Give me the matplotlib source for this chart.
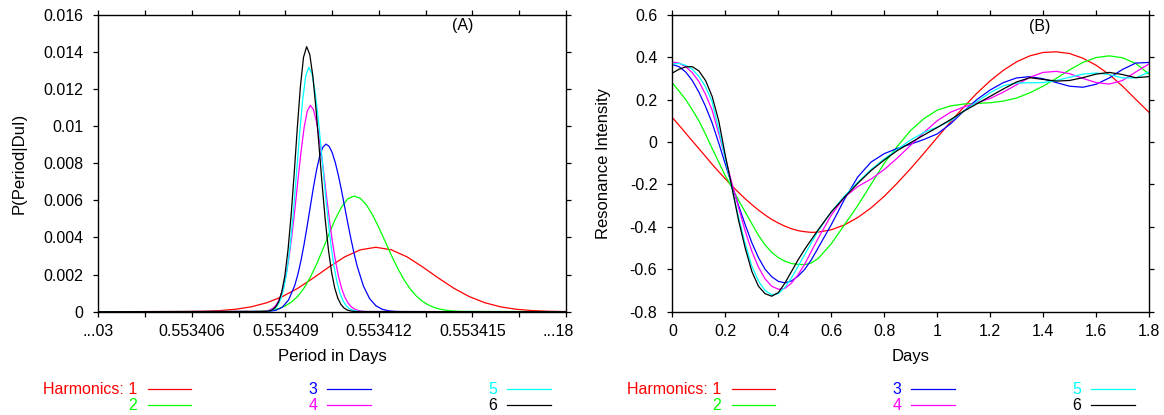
import matplotlib
matplotlib.use("Agg")
import matplotlib.pyplot as plt
from matplotlib.lines import Line2D
from matplotlib.transforms import ScaledTranslation
import numpy as np

plt.rcParams['font.family'] = ['Liberation Sans', 'DejaVu Sans']

# ---- panel (A): probability of the period, one curve per number of harmonics
# period offsets are in micro-days above the base period
base_period = 0.553403

red_off = [0, 2.9, 3.4, 3.9, 4.4, 4.9, 5.4, 5.9, 6.4, 6.9, 7.4, 7.9, 8.4, 8.9,
           9.4, 9.9, 10.4, 10.9, 11.4, 11.9, 12.4, 12.9, 13.4, 13.9, 14.4, 14.9, 15]
red_prob = [0, 0.00001, 0.000026, 0.000061, 0.000132, 0.000262, 0.000481, 0.000812,
            0.001266, 0.00182, 0.002413, 0.002953, 0.003333, 0.00347, 0.003333,
            0.002953, 0.002413, 0.00182, 0.001266, 0.000812, 0.000481, 0.000262,
            0.000132, 0.000061, 0.000026, 0.00001, 0.000008]

green_off = [0, 5.0, 5.2, 5.4, 5.6, 5.8, 6.0, 6.2, 6.4, 6.6, 6.8, 7.0, 7.2, 7.4, 7.6,
             7.8, 8.0, 8.2, 8.4, 8.6, 8.8, 9.0, 9.2, 9.4, 9.6, 9.8, 10.0, 10.2, 10.4,
             10.6, 10.8, 11.0, 11.2, 11.4, 11.6, 15]
green_prob = [0, 0.000011, 0.000024, 0.000049, 0.000096, 0.000178, 0.000314, 0.000528,
              0.00084, 0.00128, 0.00186, 0.00256, 0.00336, 0.0042, 0.00499, 0.00564,
              0.00608, 0.00623, 0.00611, 0.00575, 0.0052, 0.00452, 0.00378, 0.00303,
              0.00234, 0.00173, 0.00123, 0.000843, 0.000554, 0.00035, 0.000212,
              0.000124, 0.000069, 0.000037, 0.000019, 0]

blue_off = [0, 5.3, 5.5, 5.7, 5.9, 6.1, 6.3, 6.4, 6.5, 6.6, 6.7, 6.8, 6.9, 7.0, 7.1,
            7.2, 7.3, 7.4, 7.5, 7.6, 7.7, 7.8, 7.9, 8.0, 8.1, 8.2, 8.3, 8.5, 8.7, 8.9,
            9.1, 9.3, 9.5, 9.7, 15]
blue_prob = [0, 0.0000055, 0.0000226, 0.0000795, 0.000241, 0.00063, 0.001421, 0.002019,
             0.002765, 0.00365, 0.00464, 0.00569, 0.00672, 0.00765, 0.00839, 0.00886,
             0.00903, 0.00891, 0.00857, 0.00803, 0.00733, 0.00652, 0.00565, 0.00477,
             0.00393, 0.00315, 0.002459, 0.001388, 0.000705, 0.000323, 0.000133,
             0.0000498, 0.0000166, 0.000005, 0]

magenta_off = [0, 5.3, 5.4, 5.5, 5.6, 5.7, 5.8, 5.9, 6.0, 6.1, 6.2, 6.3, 6.4, 6.5, 6.6,
               6.7, 6.8, 6.9, 7.0, 7.1, 7.2, 7.3, 7.4, 7.5, 7.6, 7.7, 7.8, 7.9, 8.0,
               8.1, 8.2, 8.3, 8.4, 8.5, 8.6, 15]
magenta_prob = [0, 0.000019, 0.000043, 0.000092, 0.000188, 0.00036, 0.000654, 0.00112,
                0.00181, 0.00277, 0.00401, 0.00547, 0.00707, 0.00862, 0.00993, 0.01081,
                0.01112, 0.01088, 0.0102, 0.00915, 0.00786, 0.00646, 0.00509, 0.00384,
                0.002773, 0.001917, 0.00127, 0.000805, 0.000488, 0.000284, 0.000158,
                0.0000842, 0.000043, 0.000021, 0.0000098, 0]

cyan_off = [0, 5.35, 5.45, 5.55, 5.65, 5.75, 5.85, 5.95, 6.05, 6.15, 6.25, 6.35, 6.45,
            6.55, 6.65, 6.75, 6.85, 6.95, 7.05, 7.15, 7.25, 7.35, 7.45, 7.55, 7.65,
            7.75, 7.85, 7.95, 8.05, 8.15, 8.25, 8.35, 8.45, 15]
cyan_prob = [0, 0.0000102, 0.0000275, 0.0000685, 0.000159, 0.000341, 0.000684, 0.001272,
             0.0022, 0.003536, 0.00529, 0.00734, 0.00948, 0.01138, 0.0127, 0.01317,
             0.01283, 0.01188, 0.01044, 0.00871, 0.0069, 0.0052, 0.003715, 0.002522,
             0.001625, 0.000996, 0.000578, 0.00032, 0.000168, 0.0000835, 0.0000395,
             0.0000178, 0.0000075, 0]

black_off = [0, 5.38, 5.48, 5.58, 5.68, 5.78, 5.88, 5.98, 6.08, 6.18, 6.28, 6.38, 6.48,
             6.58, 6.68, 6.78, 6.88, 6.98, 7.08, 7.18, 7.28, 7.38, 7.48, 7.58, 7.68,
             7.78, 7.88, 7.98, 8.08, 8.18, 8.28, 15]
black_prob = [0, 0.0000144, 0.00004, 0.000102, 0.000241, 0.000524, 0.001048, 0.001932,
              0.003286, 0.00515, 0.00743, 0.00989, 0.01213, 0.01371, 0.01428, 0.01386,
              0.01268, 0.01093, 0.00887, 0.00679, 0.00489, 0.003324, 0.002128,
              0.001284, 0.00073, 0.00039, 0.000197, 0.0000937, 0.000042, 0.0000177,
              0.000007, 0]

period_ticks = [0.553403, 0.5534045, 0.553406, 0.5534075, 0.553409, 0.5534105,
                0.553412, 0.5534135, 0.553415, 0.5534165, 0.553418]
period_labels = ['...03', '', '0.553406', '', '0.553409', '', '0.553412', '',
                 '0.553415', '', '...18']
prob_ticks = [0, 0.002, 0.004, 0.006, 0.008, 0.01, 0.012, 0.014, 0.016]
prob_labels = ['0', '0.002', '0.004', '0.006', '0.008', '0.01', '0.012', '0.014', '0.016']

# ---- panel (B): folded resonance model for 1..6 harmonics
days = [0, 0.025, 0.05, 0.075, 0.1, 0.125, 0.15, 0.175, 0.2, 0.225, 0.25, 0.275,
        0.3, 0.325, 0.35, 0.375, 0.4, 0.425, 0.45, 0.475, 0.5, 0.525, 0.55, 0.6, 0.65,
        0.7, 0.75, 0.8, 0.85, 0.9, 0.95, 1.0, 1.05, 1.1, 1.15, 1.2, 1.25, 1.3, 1.35,
        1.4, 1.45, 1.5, 1.55, 1.6, 1.65, 1.7, 1.75, 1.8]
h1 = [0.115, 0.079, 0.042, 0.005, -0.031, -0.068, -0.105, -0.140, -0.174, -0.207,
      -0.238, -0.268, -0.295, -0.321, -0.344, -0.365, -0.382, -0.397, -0.409,
      -0.418, -0.423, -0.426, -0.425, -0.414, -0.391, -0.356, -0.311, -0.256, -0.193,
      -0.125, -0.053, 0.021, 0.094, 0.164, 0.230, 0.288, 0.338, 0.378, 0.406, 0.422,
      0.425, 0.417, 0.395, 0.362, 0.318, 0.263, 0.201, 0.140]
h2 = [0.278, 0.240, 0.200, 0.152, 0.100, 0.037, -0.030, -0.095, -0.160, -0.215,
      -0.275, -0.330, -0.385, -0.440, -0.485, -0.520, -0.545, -0.562, -0.573,
      -0.577, -0.578, -0.570, -0.550, -0.480, -0.390, -0.300, -0.200, -0.100, -0.020,
      0.055, 0.110, 0.150, 0.170, 0.179, 0.182, 0.185, 0.193, 0.207, 0.232, 0.263,
      0.300, 0.340, 0.375, 0.398, 0.406, 0.397, 0.370, 0.320]
h3 = [0.365, 0.355, 0.330, 0.290, 0.235, 0.168, 0.090, -0.005, -0.105, -0.205,
      -0.300, -0.390, -0.475, -0.545, -0.600, -0.635, -0.657, -0.664, -0.655,
      -0.632, -0.600, -0.555, -0.500, -0.390, -0.270, -0.165, -0.095, -0.055, -0.030,
      -0.010, 0.012, 0.038, 0.085, 0.145, 0.200, 0.245, 0.280, 0.302, 0.308, 0.298,
      0.280, 0.263, 0.258, 0.272, 0.302, 0.342, 0.372, 0.375]
h4 = [0.377, 0.372, 0.355, 0.327, 0.285, 0.225, 0.150, 0.040, -0.075, -0.195,
      -0.310, -0.420, -0.515, -0.590, -0.645, -0.680, -0.694, -0.690, -0.665,
      -0.625, -0.575, -0.515, -0.455, -0.345, -0.260, -0.210, -0.175, -0.130, -0.075,
      -0.015, 0.045, 0.100, 0.140, 0.165, 0.185, 0.205, 0.235, 0.270, 0.305, 0.328,
      0.333, 0.322, 0.300, 0.280, 0.273, 0.290, 0.330, 0.368]
h5 = [0.368, 0.370, 0.362, 0.343, 0.310, 0.260, 0.190, 0.060, -0.080, -0.220,
      -0.355, -0.480, -0.585, -0.655, -0.700, -0.720, -0.715, -0.685, -0.640,
      -0.585, -0.530, -0.475, -0.420, -0.330, -0.255, -0.190, -0.130, -0.080, -0.035,
      0.010, 0.045, 0.070, 0.100, 0.145, 0.190, 0.232, 0.265, 0.278, 0.279, 0.280,
      0.290, 0.305, 0.320, 0.325, 0.318, 0.302, 0.302, 0.330]
h6 = [0.325, 0.343, 0.354, 0.355, 0.335, 0.290, 0.215, 0.100, -0.065, -0.215,
      -0.370, -0.500, -0.610, -0.680, -0.715, -0.727, -0.710, -0.665, -0.610,
      -0.555, -0.505, -0.460, -0.415, -0.330, -0.260, -0.195, -0.135, -0.085, -0.040,
      -0.003, 0.033, 0.068, 0.105, 0.145, 0.180, 0.215, 0.250, 0.283, 0.303, 0.295,
      0.287, 0.290, 0.303, 0.320, 0.328, 0.318, 0.303, 0.308]

day_ticks = [0, 0.2, 0.4, 0.6, 0.8, 1.0, 1.2, 1.4, 1.6, 1.8]
day_labels = ['0', '0.2', '0.4', '0.6', '0.8', '1', '1.2', '1.4', '1.6', '1.8']
res_ticks = [-0.8, -0.6, -0.4, -0.2, 0, 0.2, 0.4, 0.6]
res_labels = ['-0.8', '-0.6', '-0.4', '-0.2', '0', '0.2', '0.4', '0.6']

harmonics = ['1', '2', '3', '4', '5', '6']
colors = ['#ff0000', '#00ff00', '#0000ff', '#ff00ff', '#00ffff', '#000000']

W, H = 1164, 415
fig = plt.figure(figsize=(W / 100, H / 100), dpi=100)

ax_a = fig.add_axes([98.4 / W, 1 - 311.7 / H, 467.6 / W, 297 / H])
ax_b = fig.add_axes([672.4 / W, 1 - 311.7 / H, 476.6 / W, 297 / H])

offsets = [red_off, green_off, blue_off, magenta_off, cyan_off, black_off]
probs = [red_prob, green_prob, blue_prob, magenta_prob, cyan_prob, black_prob]
for off, p, c in zip(offsets, probs, colors):
    per = base_period + np.array(off) * 1e-6
    ax_a.plot(per, p, color=c, lw=0.9)

for ys, c in zip([h1, h2, h3, h4, h5, h6], colors):
    ax_b.plot(days, ys, color=c, lw=0.9)

ax_a.set_xlim(period_ticks[0], period_ticks[-1])
ax_a.set_ylim(0, 0.016)
ax_a.set_xticks(period_ticks)
ax_a.set_xticklabels(period_labels)
ax_a.set_yticks(prob_ticks)
ax_a.set_yticklabels(prob_labels)
ax_a.set_xlabel('Period in Days', fontsize=12)
ax_a.set_ylabel('P(Period|DuI)', fontsize=12)
ax_a.text(0.78, 0.962, '(A)', transform=ax_a.transAxes, fontsize=11.5,
          ha='center', va='center')

ax_b.set_xlim(0, 1.8)
ax_b.set_ylim(-0.8, 0.6)
ax_b.set_xticks(day_ticks)
ax_b.set_xticklabels(day_labels)
ax_b.set_yticks(res_ticks)
ax_b.set_yticklabels(res_labels)
ax_b.set_xlabel('Days', fontsize=12)
ax_b.set_ylabel('Resonance Intensity', fontsize=12)
ax_b.text(0.771, 0.96, '(B)', transform=ax_b.transAxes, fontsize=11.5,
          ha='center', va='center')

for ax in (ax_a, ax_b):
    for s in ax.spines.values():
        s.set_linewidth(1.0)
    ax.tick_params(axis='both', direction='out', top=True, right=True,
                   length=3.5, width=0.9, labelsize=11.5)
    ax.tick_params(axis='x', pad=5.2)
    ax.tick_params(axis='y', pad=7.4)
    ax.xaxis.set_label_coords(0.5, -0.125)
    ax.xaxis.label.set_va('top')

ax_a.yaxis.set_label_coords(-0.153, 0.5)
ax_b.yaxis.set_label_coords(-0.129, 0.5)

# the last period label sits a little inside the axis end
last = ax_a.xaxis.get_major_ticks()[-1].label1
last.set_transform(last.get_transform() + ScaledTranslation(-8 / 100, 0, fig.dpi_scale_trans))

# legends under each panel, drawn in figure pixels
for shift in (0, 584):
    rows = [(389, 0), (405, 1)]
    cols = [(136.8, 147.6, 190.7), (317.8, 327.1, 371.0), (497.4, 507.4, 551.0)]
    for ci, (tx, l0, l1) in enumerate(cols):
        for yy, ri in rows:
            k = ci * 2 + ri
            label = harmonics[k]
            if k == 0:
                label = 'Harmonics: 1'
            fig.text((tx + shift) / W, 1 - yy / H, label, color=colors[k],
                     fontsize=11.5, ha='right', va='center')
            fig.add_artist(Line2D([(l0 + shift) / W, (l1 + shift) / W],
                                  [1 - yy / H, 1 - yy / H], color=colors[k],
                                  lw=0.9, transform=fig.transFigure))

fig.savefig('out.png', dpi=100)
